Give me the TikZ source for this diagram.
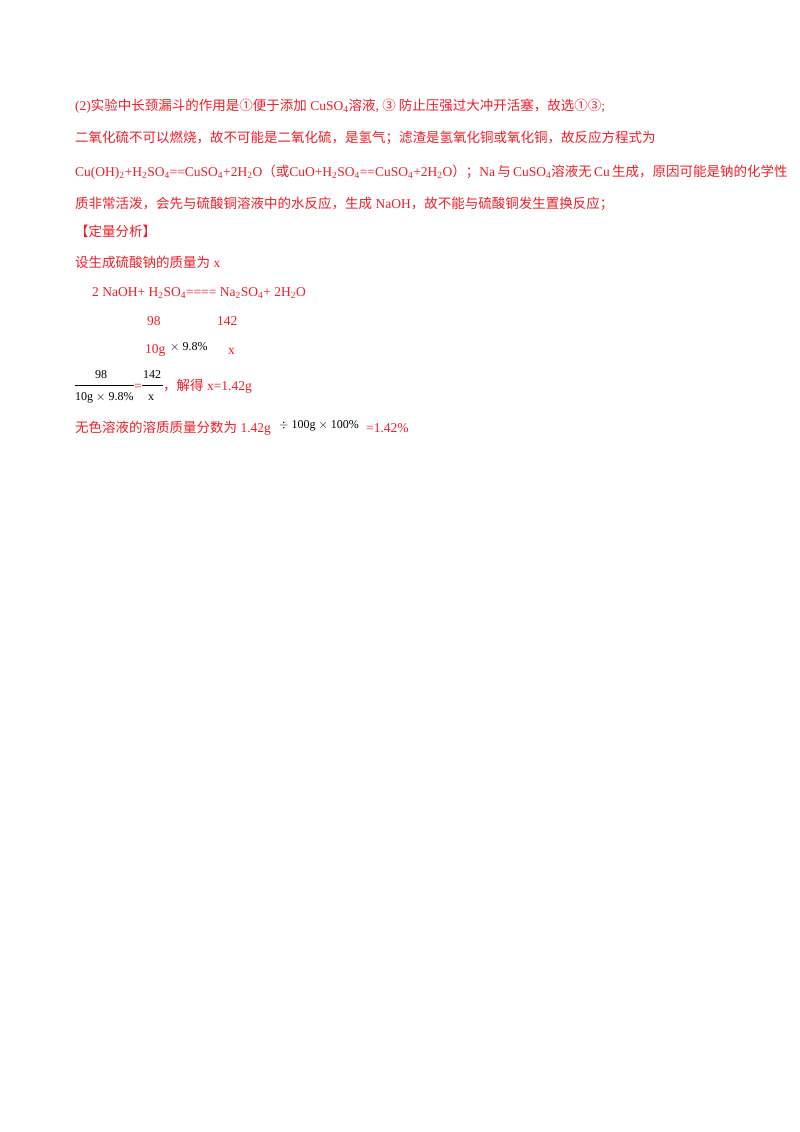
\documentclass[tikz,border=0pt]{standalone}
\usepackage{fontspec}
\setmainfont{Liberation Serif}
\newfontfamily\cjk{Noto Sans CJK SC}
\definecolor{txt}{RGB}{240,30,40}
\newcommand{\zh}[1]{{\cjk #1}}
\newcommand{\sbs}[1]{\textsubscript{#1}}
\begin{document}
\begin{tikzpicture}[x=1pt,y=-1pt,
  t/.style={anchor=base west,inner sep=0pt,text=txt,font=\fontsize{13.5}{14}\selectfont},
  k/.style={anchor=base west,inner sep=0pt,text=black,font=\fontsize{12}{14}\selectfont}]
\useasboundingbox[fill=white] (0,0) rectangle (800,1132);
\node[t] (l1) at (75,110) {(2)\zh{实验中长颈漏斗的作用是①便于添加} CuSO\sbs{4}\zh{溶液}, \zh{③ 防止压强过大冲开活塞，故选①③};};
\node[t] (l2) at (75,142) {\zh{二氧化硫不可以燃烧，故不可能是二氧化硫，是氢气；滤渣是氢氧化铜或氧化铜，故反应方程式为}};
\node[t] (l3) at (75,176) {Cu(OH)\sbs{2}+H\sbs{2}SO\sbs{4}==CuSO\sbs{4}+2H\sbs{2}O\zh{（或}CuO+H\sbs{2}SO\sbs{4}==CuSO\sbs{4}+2H\sbs{2}O\zh{）；}Na\,\zh{与}\,CuSO\sbs{4}\zh{溶液无}\,Cu\,\zh{生成，原因可能是钠的化学性}};
\node[t] (l4) at (75,208) {\zh{质非常活泼，会先与硫酸铜溶液中的水反应，生成} NaOH\zh{，故不能与硫酸铜发生置换反应；}};
\node[t] (l5) at (75,236) {\zh{【定量分析】}};
\node[t] (l6) at (75,267) {\zh{设生成硫酸钠的质量为} x};
\node[t] (eq) at (92,296) {2 NaOH+ H\sbs{2}SO\sbs{4}==== Na\sbs{2}SO\sbs{4}+ 2H\sbs{2}O};
\node[t] (a98) at (147,325) {98};
\node[t] (a142) at (217,325) {142};
\node[t] (g10) at (145,353) {10g};
\node[k] (m98) at (170,350) {$\times$ 9.8\%};
\node[t] (xx) at (228,354) {x};
\node[k] (n98) at (95,378) {98};
\node[k] (d98) at (75,400) {10g $\times$ 9.8\%};
\node[k] (n142) at (143,378) {142};
\node[k] (dx) at (148,400) {x};
\draw (75,385) -- (134,385);
\draw (142,385) -- (163,385);
\node[t] (eqs) at (134,390) {=};
\node[t] (sol) at (163,390) {\zh{，解得} x=1.42g};
\node[t] (l7) at (75,432) {\zh{无色溶液的溶质质量分数为} 1.42g};
\node[k] (l7b) at (279,428) {$\div$ 100g $\times$ 100\%};
\node[t] (l7c) at (366,432) {=1.42\%};
\end{tikzpicture}
\end{document}
